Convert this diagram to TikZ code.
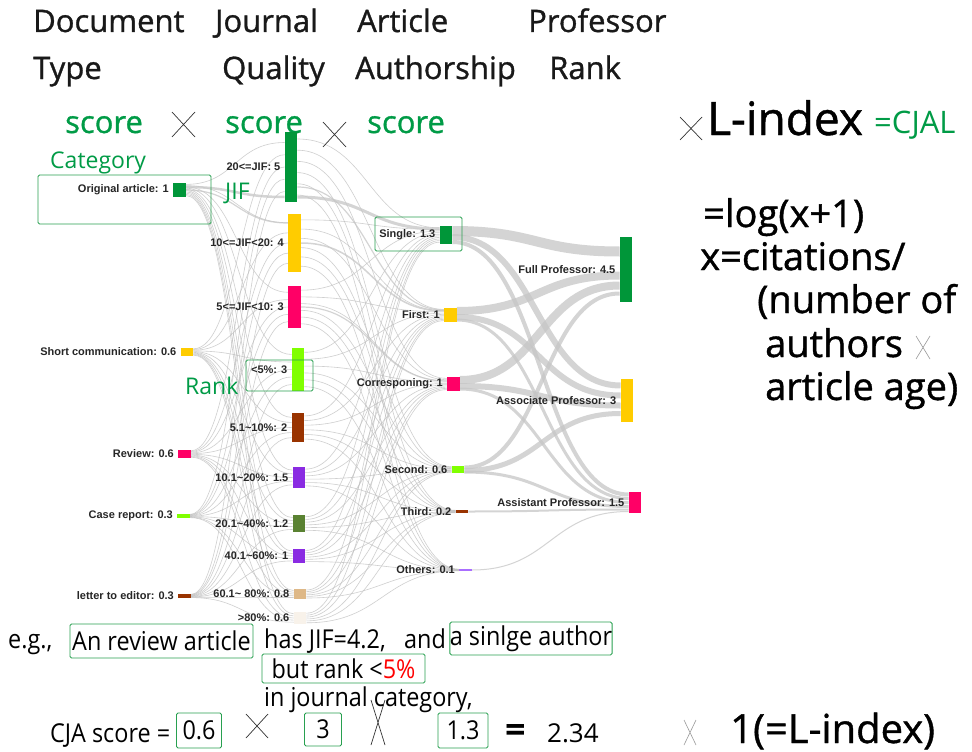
\documentclass[tikz,border=0pt]{standalone}
\usepackage{fontspec}
\usepackage{graphicx}
\setmainfont{Open Sans}
\newfontfamily\labf{Liberation Sans}
\newfontfamily\hvyf{Open Sans}[FakeBold=1]
\usetikzlibrary{calc,backgrounds}
\definecolor{cg}{RGB}{0,150,57}
\definecolor{tg}{RGB}{0,155,70}
\definecolor{bxg}{RGB}{40,160,80}
\definecolor{cy}{RGB}{255,204,0}
\definecolor{cp}{RGB}{255,0,102}
\definecolor{cl}{RGB}{128,255,0}
\definecolor{cb}{RGB}{153,51,0}
\definecolor{cv}{RGB}{138,43,226}
\definecolor{co}{RGB}{90,130,50}
\definecolor{ct}{RGB}{222,184,135}
\definecolor{cw}{RGB}{248,242,234}
\definecolor{cpl}{RGB}{170,110,255}
\newcommand\cnd[1]{\scalebox{0.9}[1]{#1}}
\begin{document}
\begin{tikzpicture}[x=1pt,y=-1pt,
  bar/.style={rectangle,inner sep=0pt,minimum width=12.5pt,draw=none},
  lbl/.style={font=\labf\bfseries\fontsize{11}{12}\selectfont,text=black!85,inner sep=0pt,label distance=4pt},
  txt/.style={anchor=base west,inner sep=0pt},
  hd/.style={txt,font=\hvyf\fontsize{31}{36}\selectfont,text=black!90},
  gsc/.style={txt,font=\hvyf\fontsize{31}{36}\selectfont,text=tg},
  gl/.style={txt,font=\fontsize{23}{26}\selectfont,text=tg},
  rt/.style={txt,font=\hvyf\fontsize{38}{42}\selectfont},
  bt/.style={txt,font=\fontsize{26}{28}\selectfont},
  box/.style={draw=bxg,line width=0.9pt,rounded corners=1.5pt,inner sep=0pt,font=\fontsize{26}{28}\selectfont},
  hl/.style={draw=bxg,line width=0.9pt,rounded corners=1.5pt,inner sep=0pt},
  xm/.style={line width=0.7pt,draw=black!80},
  thinf/.style={line width=0.6pt,draw=gray!50,draw opacity=0.75},
  band/.style={draw=gray!45,draw opacity=0.75,line cap=butt}]
\path[use as bounding box] (0,0) rectangle (972,752);

% headers
\node[hd] (h1a) at (33,32) {Document};
\node[hd] (h1b) at (33,79) {Type};
\node[hd] (h2a) at (215,32) {Journal};
\node[hd] (h2b) at (222,79) {Quality};
\node[hd] (h3a) at (357,32) {Article};
\node[hd] (h3b) at (355,79) {Authorship};
\node[hd] (h4a) at (528,32) {Professor};
\node[hd] (h4b) at (549,79) {Rank};
\node[gsc] (s1) at (65,133) {score};
\node[gsc] (s2) at (225,133) {score};
\node[gsc] (s3) at (367,133) {score};
\draw[xm] (172,112) -- (195,137) (195,112) -- (172,137);
\draw[xm] (323,122) -- (346,147) (346,122) -- (323,147);
\draw[xm] (680,117) -- (702,140) (702,117) -- (680,140);
\node[txt,font=\hvyf\fontsize{46}{50}\selectfont] (li) at (707,135) {L-index};
\node[txt,font=\fontsize{31}{34}\selectfont,text=tg] (cjal) at (874,133) {=CJAL};
\node[gl] (cat) at (50,168) {Category};
\node[gl] (jif) at (225,199) {JIF};
\node[gl] (rk) at (185,394) {Rank};

% right formula
\node[rt] (f1) at (703,227) {=log(x+1)};
\node[rt] (f2) at (700,270) {x=citations/};
\node[rt] (f3) at (757,313) {(number of};
\node[rt] (f4) at (765,357) {authors};
\draw[line width=0.6pt,draw=black!40] (916,336) -- (930,359) (930,336) -- (916,359);
\node[rt] (f5) at (765,400) {article age)};

% column 1
\node[bar,fill=cg,minimum height=14pt,label={[lbl]left:Original article: 1}] (d1) at (179.5,190) {};
\node[bar,fill=cy,minimum height=8pt,label={[lbl]left:Short communication: 0.6}] (d2) at (187,352) {};
\node[bar,fill=cp,minimum height=8pt,label={[lbl]left:Review: 0.6}] (d3) at (184.5,454) {};
\node[bar,fill=cl,minimum height=4pt,label={[lbl]left:Case report: 0.3}] (d4) at (183.5,516) {};
\node[bar,fill=cb,minimum height=4pt,label={[lbl]left:letter to editor: 0.3}] (d5) at (184.5,596) {};
% column 2
\node[bar,fill=cg,minimum height=70pt,label={[lbl]left:20<=JIF: 5}] (j1) at (291,167) {};
\node[bar,fill=cy,minimum height=58pt,label={[lbl]left:10<=JIF<20: 4}] (j2) at (294.5,243) {};
\node[bar,fill=cp,minimum height=42pt,label={[lbl]left:5<=JIF<10: 3}] (j3) at (294.5,307) {};
\node[bar,fill=cl,minimum height=43pt,label={[lbl]left:<5\%: 3}] (j4) at (298,369.5) {};
\node[bar,fill=cb,minimum height=29pt,label={[lbl]left:5.1\textasciitilde10\%: 2}] (j5) at (298,427.5) {};
\node[bar,fill=cv,minimum height=21pt,label={[lbl]left:10.1\textasciitilde20\%: 1.5}] (j6) at (299,477.5) {};
\node[bar,fill=co,minimum height=17pt,label={[lbl]left:20.1\textasciitilde40\%: 1.2}] (j7) at (299,523.5) {};
\node[bar,fill=cv,minimum height=14pt,label={[lbl]left:40.1\textasciitilde60\%: 1}] (j8) at (299,556) {};
\node[bar,fill=ct,minimum height=10pt,label={[lbl]left:60.1\textasciitilde{} 80\%: 0.8}] (j9) at (300,594) {};
\node[bar,fill=cw,minimum height=12pt,label={[lbl]left:>80\%: 0.6}] (j10) at (300,618) {};
% column 3
\node[bar,fill=cg,minimum height=18pt,label={[lbl]left:Single: 1.3}] (a1) at (446,235) {};
\node[bar,fill=cy,minimum height=14pt,label={[lbl]left:First: 1}] (a2) at (450.5,315) {};
\node[bar,fill=cp,minimum height=14pt,label={[lbl]left:Corresponing: 1}] (a3) at (453.5,384) {};
\node[bar,fill=cl,minimum height=7pt,label={[lbl]left:Second: 0.6}] (a4) at (458,469.5) {};
\node[bar,fill=cb,minimum height=3pt,label={[lbl]left:Third: 0.2}] (a5) at (462,511.5) {};
\node[bar,fill=cpl,minimum height=2pt,label={[lbl]left:Others: 0.1}] (a6) at (465.5,570) {};
% column 4
\node[bar,fill=cg,minimum height=65pt,label={[lbl]left:Full Professor: 4.5}] (p1) at (626,269.5) {};
\node[bar,fill=cy,minimum height=43pt,label={[lbl]left:Associate Professor: 3}] (p2) at (627,400.5) {};
\node[bar,fill=cp,minimum height=21pt,label={[lbl]left:Assistant Professor: 1.5}] (p3) at (635,502.5) {};

% flows
\begin{scope}[on background layer]
\fill[white] (0,0) rectangle (972,752);
\foreach \s/\hs/\si in {d1/14/1,d2/8/2,d3/8/3,d4/4/4,d5/4/5}{
  \foreach \t/\ht/\ti in {j1/70/1,j2/58/2,j3/42/3,j4/43/4,j5/29/5,j6/21/6,j7/17/7,j8/14/8,j9/10/9,j10/12/10}{
    \pgfmathsetmacro\ys{(\ti-5.5)/9*\hs*0.8}
    \pgfmathsetmacro\yt{(\si-3)/4*\ht*0.7}
    \draw[thinf] let \p1=($(\s.east)+(0,\ys)$), \p2=($(\t.west)+(0,\yt)$) in
      (\p1) .. controls ({(\x1+\x2)/2},\y1) and ({(\x1+\x2)/2},\y2) .. (\p2);
  }}
\foreach \s/\hs/\si in {j1/70/1,j2/58/2,j3/42/3,j4/43/4,j5/29/5,j6/21/6,j7/17/7,j8/14/8,j9/10/9,j10/12/10}{
  \foreach \t/\ht/\ti in {a1/18/1,a2/14/2,a3/14/3,a4/7/4,a5/3/5,a6/2/6}{
    \pgfmathsetmacro\ys{(\ti-3.5)/5*\hs*0.8}
    \pgfmathsetmacro\yt{(\si-5.5)/9*\ht*0.8}
    \draw[thinf] let \p1=($(\s.east)+(0,\ys)$), \p2=($(\t.west)+(0,\yt)$) in
      (\p1) .. controls ({(\x1+\x2)/2},\y1) and ({(\x1+\x2)/2},\y2) .. (\p2);
  }}
\foreach \s/\ys/\t/\yt/\w in {d1/-3/j1/30/2.5,d1/0/j2/-20/1.2,j1/30/a1/-6/3,j2/0/a2/-4/1.5,j3/0/a3/-3/1.2,j1/20/a2/-5/1.2}{
    \draw[band,line width=\w pt] let \p1=($(\s.east)+(0,\ys)$), \p2=($(\t.west)+(0,\yt)$) in
      (\p1) .. controls ({(\x1+\x2)/2},\y1) and ({(\x1+\x2)/2},\y2) .. (\p2);
  }
\foreach \s/\ys/\t/\yt/\w in {a1/-4/p1/-18/10,a1/2/p2/-15/6,a1/7/p3/-8/4,a2/-4/p1/6/8,a2/2/p2/-5/6,a2/5/p3/-4/3,a3/-4/p1/16/8,a3/2/p2/5/6,a3/5/p3/0/3,a4/-2/p1/24/4,a4/1/p2/13/5,a4/2.5/p3/4/3,a5/0/p3/7/2,a6/0/p3/9/1}{
    \draw[band,line width=\w pt] let \p1=($(\s.east)+(0,\ys)$), \p2=($(\t.west)+(0,\yt)$) in
      (\p1) .. controls ({(\x1+\x2)/2},\y1) and ({(\x1+\x2)/2},\y2) .. (\p2);
  }
\end{scope}

% highlight boxes
\node[hl,minimum width=173pt,minimum height=49pt] (hb1) at (124.5,199.5) {};
\node[hl,minimum width=67pt,minimum height=31pt] (hb2) at (279.5,375.5) {};
\node[hl,minimum width=87pt,minimum height=34pt] (hb3) at (418.5,234) {};

% bottom example
\node[bt] (eg) at (8,648) {\cnd{e.g.,}};
\node[box,minimum width=183pt,minimum height=34pt] (b1) at (161.5,641) {\cnd{An review article}};
\node[bt] (has) at (264,648) {\cnd{has JIF=4.2,}};
\node[bt] (and) at (404,648) {\cnd{and}};
\node[box,minimum width=162pt,minimum height=33pt] (b2) at (531,638.5) {\cnd{a sinlge author}};
\node[box,minimum width=163pt,minimum height=29pt] (b3) at (343.5,668.5) {\cnd{but rank <\textcolor{red}{5\%}}};
\node[bt] (inj) at (264,706) {\cnd{in journal category,}};
\node[bt] (cja) at (50,742) {\cnd{CJA score =}};
\node[box,minimum width=45pt,minimum height=35pt] (b4) at (199,730.5) {\cnd{0.6}};
\draw[xm] (246,714) -- (268,738) (268,714) -- (246,738);
\node[box,minimum width=37pt,minimum height=33pt] (b5) at (323,729.5) {\cnd{3}};
\draw[xm] (371,700) -- (385,745) (385,700) -- (371,745);
\node[box,minimum width=50pt,minimum height=35pt] (b6) at (463,730.5) {\cnd{1.3}};
\node[txt,font=\fontsize{36}{40}\selectfont\bfseries] (eq) at (505,742) {=};
\node[bt] (res) at (547,742) {2.34};
\node[txt,font=\hvyf\fontsize{40}{44}\selectfont] (one) at (730,743) {1(=L-index)};
\draw[line width=0.6pt,draw=black!40] (684,720) -- (696,745) (696,720) -- (684,745);
\end{tikzpicture}
\end{document}
